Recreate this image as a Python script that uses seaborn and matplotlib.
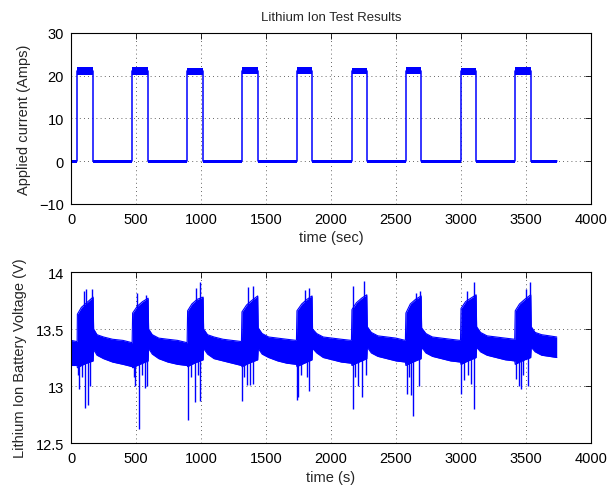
import numpy as np
import pandas as pd
import matplotlib
matplotlib.use("Agg")
import matplotlib.pyplot as plt
from matplotlib.ticker import FormatStrFormatter
import seaborn as sns

# ---------------- data ----------------
# applied current pulses (s)
pulse_start = [48, 472, 895, 1313, 1736, 2159, 2574, 2998, 3415]
pulse_end = [172, 595, 1018, 1438, 1856, 2277, 2695, 3118, 3538]
record_end = 3736
pulse_level = [21.0, 21.1, 21.0, 21.0, 21.1, 21.0, 21.0, 21.0, 21.0]
plateau_hi = [22.1, 22.0, 21.9, 22.0, 22.1, 21.9, 22.0, 21.9, 22.1]
plateau_lo = [20.2, 20.1, 20.2, 20.3, 20.3, 20.3, 20.4, 20.1, 20.2]

# battery voltage envelope (s, V)
v_time = [0, 47,
          49, 80, 120, 170,
          174, 200, 250, 320, 400, 470,
          474, 510, 550, 593,
          597, 625, 675, 745, 820, 893,
          897, 930, 970, 1016,
          1020, 1050, 1100, 1170, 1240, 1311,
          1315, 1350, 1390, 1436,
          1440, 1470, 1520, 1590, 1660, 1734,
          1738, 1775, 1815, 1854,
          1858, 1890, 1940, 2010, 2080, 2157,
          2161, 2195, 2235, 2275,
          2279, 2310, 2360, 2430, 2500, 2572,
          2576, 2610, 2650, 2693,
          2697, 2730, 2780, 2850, 2920, 2996,
          3000, 3035, 3075, 3116,
          3120, 3150, 3200, 3270, 3340, 3413,
          3417, 3450, 3490, 3536,
          3540, 3570, 3620, 3680, 3736]
v_top = [13.40, 13.39,
         13.63, 13.69, 13.73, 13.78,
         13.50, 13.45, 13.43, 13.41, 13.40, 13.38,
         13.64, 13.70, 13.74, 13.77,
         13.50, 13.45, 13.42, 13.41, 13.40, 13.38,
         13.66, 13.72, 13.76, 13.78,
         13.50, 13.45, 13.43, 13.41, 13.40, 13.39,
         13.65, 13.71, 13.75, 13.79,
         13.51, 13.46, 13.43, 13.42, 13.41, 13.40,
         13.66, 13.72, 13.76, 13.79,
         13.50, 13.46, 13.43, 13.42, 13.41, 13.40,
         13.67, 13.73, 13.77, 13.80,
         13.52, 13.47, 13.44, 13.43, 13.42, 13.40,
         13.64, 13.72, 13.76, 13.79,
         13.51, 13.46, 13.43, 13.42, 13.41, 13.40,
         13.68, 13.74, 13.77, 13.80,
         13.52, 13.47, 13.44, 13.43, 13.42, 13.41,
         13.66, 13.72, 13.76, 13.80,
         13.52, 13.47, 13.45, 13.44, 13.43]
v_bot = [13.18, 13.18,
         13.16, 13.18, 13.20, 13.22,
         13.32, 13.27, 13.24, 13.21, 13.19, 13.17,
         13.16, 13.18, 13.20, 13.22,
         13.33, 13.28, 13.24, 13.21, 13.19, 13.18,
         13.17, 13.19, 13.21, 13.23,
         13.33, 13.28, 13.24, 13.22, 13.20, 13.18,
         13.17, 13.19, 13.21, 13.23,
         13.33, 13.28, 13.25, 13.22, 13.20, 13.19,
         13.17, 13.19, 13.21, 13.23,
         13.33, 13.29, 13.25, 13.23, 13.21, 13.20,
         13.18, 13.20, 13.22, 13.24,
         13.34, 13.29, 13.26, 13.24, 13.22, 13.21,
         13.18, 13.20, 13.22, 13.24,
         13.34, 13.29, 13.26, 13.24, 13.22, 13.21,
         13.19, 13.21, 13.23, 13.25,
         13.34, 13.30, 13.27, 13.25, 13.23, 13.22,
         13.19, 13.21, 13.23, 13.25,
         13.34, 13.30, 13.27, 13.26, 13.25]

# transient spikes (s, V)
down_t = [55, 64, 86, 108, 133, 146, 485, 492, 523, 545, 569, 587,
          903, 920, 954, 975, 992, 1313, 1330, 1351, 1377, 1403,
          1736, 1749, 1770, 1813, 1833, 2167, 2185, 2210, 2236, 2267,
          2582, 2600, 2613, 2633, 2677, 2998, 3023, 3050, 3077, 3100,
          3423, 3446, 3462, 3480, 3518]
down_v = [13.10, 12.97, 13.08, 12.81, 12.83, 13.00, 13.08, 13.00, 12.62, 13.10, 12.98, 13.00,
          12.70, 13.08, 12.86, 13.10, 12.87, 12.87, 13.08, 13.01, 13.01, 13.02,
          12.88, 12.90, 13.10, 13.08, 12.96, 12.80, 13.08, 13.00, 12.90, 13.10,
          12.93, 13.08, 12.92, 12.74, 13.00, 12.93, 13.05, 13.10, 13.02, 12.80,
          13.06, 13.00, 12.97, 13.10, 13.00]
up_t = [100, 115, 160, 505, 577, 960, 992, 1362, 1397, 1800, 1833, 2167, 2254,
        2650, 2685, 3044, 3100, 3498, 3531]
up_v = [13.83, 13.85, 13.85, 13.82, 13.80, 13.86, 13.91, 13.87, 13.88, 13.84, 13.86,
        13.88, 13.92, 13.82, 13.83, 13.83, 13.91, 13.85, 13.91]

# ---------------- figure ----------------
sns.set_style("white")
plt.rcParams['font.family'] = ['Liberation Sans', 'DejaVu Sans']

BLUE = "#0000ff"
FS = 10.5
fig = plt.figure(figsize=(6.09, 4.89), dpi=100)
ax1 = fig.add_axes([0.1166, 0.5808, 0.8539, 0.3497])
ax2 = fig.add_axes([0.1166, 0.092, 0.8539, 0.3497])

# current as a step trace
ct, cv = [0], [0.0]
for s, e, lvl in zip(pulse_start, pulse_end, pulse_level):
    ct += [s, s, e, e]
    cv += [0.0, lvl, lvl, 0.0]
ct.append(record_end)
cv.append(0.0)
cur = pd.DataFrame({"t": ct, "I": cv})
sns.lineplot(data=cur, x="t", y="I", ax=ax1, color=BLUE, lw=1.1,
             estimator=None, sort=False)
for s, e, lo, hi in zip(pulse_start, pulse_end, plateau_lo, plateau_hi):
    ax1.fill_between([s, e], [lo, lo], [hi, hi], color=BLUE, lw=0)
base_s = [0] + pulse_end
base_e = pulse_start + [record_end]
for s, e in zip(base_s, base_e):
    ax1.fill_between([s, e], [-0.3, -0.3], [0.35, 0.35], color=BLUE, lw=0)

ax1.set_xlim(0, 4000)
ax1.set_ylim(-10, 30)
ax1.set_xticks([0, 500, 1000, 1500, 2000, 2500, 3000, 3500, 4000])
ax1.set_yticks([-10, 0, 10, 20, 30])
ax1.set_xlabel("time (sec)", fontsize=FS, labelpad=3)
ax1.set_ylabel("Applied current (Amps)", fontsize=FS, labelpad=6)
ax1.set_title("Lithium Ion Test Results", fontsize=9.5, pad=9)

# voltage band
volt = pd.DataFrame({"t": v_time, "top": v_top, "bot": v_bot})
ax2.fill_between(volt["t"], volt["bot"], volt["top"], color=BLUE, lw=0)
sns.lineplot(data=volt, x="t", y="top", ax=ax2, color=BLUE, lw=0.8,
             estimator=None, sort=False)
sns.lineplot(data=volt, x="t", y="bot", ax=ax2, color=BLUE, lw=0.8,
             estimator=None, sort=False)
ax2.vlines(down_t, down_v, 13.3, color=BLUE, lw=1.0)
ax2.vlines(up_t, 13.5, up_v, color=BLUE, lw=1.0)

ax2.set_xlim(0, 4000)
ax2.set_ylim(12.5, 14)
ax2.set_xticks([0, 500, 1000, 1500, 2000, 2500, 3000, 3500, 4000])
ax2.set_yticks([12.5, 13, 13.5, 14])
ax2.yaxis.set_major_formatter(FormatStrFormatter('%g'))
ax2.set_xlabel("time (s)", fontsize=FS, labelpad=3)
ax2.set_ylabel("Lithium Ion Battery Voltage (V)", fontsize=FS, labelpad=6)

for ax in (ax1, ax2):
    ax.grid(True, color="#333333", lw=0.6, linestyle=(0, (1, 4)))
    ax.set_axisbelow(True)
    ax.tick_params(direction="in", top=True, right=True, length=4, width=0.6,
                   labelsize=FS, colors="black")
    ax.tick_params(axis="x", pad=6)
    ax.tick_params(axis="y", pad=5)
    for sp in ax.spines.values():
        sp.set_color("black")
        sp.set_linewidth(0.8)

fig.savefig("out.png", dpi=100)
